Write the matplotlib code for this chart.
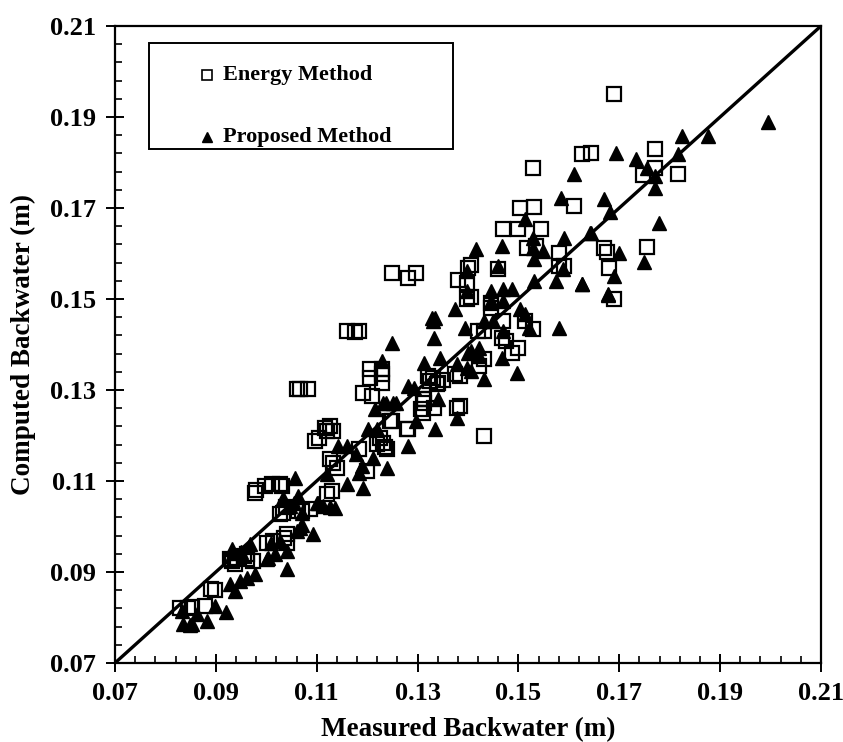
import numpy as np
import matplotlib
matplotlib.use("Agg")
import matplotlib.pyplot as plt
from matplotlib.patches import Rectangle
from matplotlib.ticker import FixedLocator, FormatStrFormatter

plt.rcParams['font.family'] = ['Liberation Serif', 'DejaVu Serif']
plt.rcParams['font.weight'] = 'bold'

# Energy Method (measured, computed)
energy_x = [0.0829, 0.0845, 0.0852, 0.0879, 0.0899, 0.0890,
            0.0928, 0.0938, 0.0932, 0.0942, 0.0962, 0.0962, 0.0974, 0.0955,
            0.1002, 0.1014, 0.1042, 0.1042, 0.1036,
            0.1034, 0.1063, 0.1071, 0.1028, 0.1087, 0.1040,
            0.0978, 0.0980, 0.0998, 0.1012, 0.1028, 0.1032,
            0.1121, 0.1131,
            0.1161, 0.1183, 0.1175,
            0.1060, 0.1067, 0.1083,
            0.1206, 0.1230, 0.1230, 0.1206, 0.1230, 0.1192, 0.1210,
            0.1117, 0.1127, 0.1120, 0.1097, 0.1133, 0.1105,
            0.1250, 0.1280, 0.1306, 0.1310, 0.1331, 0.1341, 0.1320, 0.1325,
            0.1350, 0.1385, 0.1385,
            0.1183, 0.1200, 0.1220, 0.1240, 0.1127, 0.1133, 0.1141,
            0.1470, 0.1500, 0.1544, 0.1518, 0.1534, 0.1580, 0.1580, 0.1590,
            0.1250, 0.1282, 0.1296,
            0.1401, 0.1405, 0.1381, 0.1399, 0.1459, 0.1399, 0.1405, 0.1445, 0.1445,
            0.1419, 0.1431, 0.1470, 0.1514, 0.1528, 0.1468, 0.1475, 0.1500,
            0.1488, 0.1431, 0.1421, 0.1375,
            0.1312, 0.1310, 0.1333, 0.1379, 0.1431, 0.1282, 0.1246, 0.1225, 0.1235,
            0.1232, 0.1339, 0.1312,
            0.1690, 0.1627, 0.1643, 0.1770, 0.1748, 0.1770, 0.1816,
            0.1528, 0.1610, 0.1504, 0.1530,
            0.1669, 0.1675, 0.1754, 0.1680, 0.1689]
energy_y = [0.0821, 0.0821, 0.0824, 0.0825, 0.0860, 0.0862,
            0.0929, 0.0918, 0.0924, 0.0931, 0.0940, 0.0929, 0.0924, 0.0935,
            0.0964, 0.0968, 0.0964, 0.0983, 0.0975,
            0.1030, 0.1034, 0.1034, 0.1027, 0.1038, 0.1042,
            0.1074, 0.1080, 0.1089, 0.1093, 0.1093, 0.1089,
            0.1071, 0.1078,
            0.1430, 0.1430, 0.1428,
            0.1302, 0.1302, 0.1302,
            0.1346, 0.1346, 0.1335, 0.1326, 0.1315, 0.1293, 0.1287,
            0.1216, 0.1221, 0.1210, 0.1188, 0.1210, 0.1195,
            0.1232, 0.1214, 0.1258, 0.1280, 0.1326, 0.1315, 0.1330, 0.1320,
            0.1322, 0.1331, 0.1265,
            0.1170, 0.1122, 0.1181, 0.1170, 0.1148, 0.1139, 0.1128,
            0.1654, 0.1654, 0.1654, 0.1612, 0.1617, 0.1601, 0.1573, 0.1573,
            0.1557, 0.1546, 0.1557,
            0.1568, 0.1575, 0.1542, 0.1535, 0.1566, 0.1500, 0.1505, 0.1491, 0.1480,
            0.1430, 0.1430, 0.1452, 0.1452, 0.1434, 0.1414, 0.1408, 0.1392,
            0.1381, 0.1368, 0.1353, 0.1335,
            0.1271, 0.1249, 0.1260, 0.1260, 0.1199, 0.1214, 0.1232, 0.1195, 0.1175,
            0.1184, 0.1313, 0.1280,
            0.1950, 0.1819, 0.1821, 0.1830, 0.1773, 0.1788, 0.1775,
            0.1788, 0.1704, 0.1700, 0.1702,
            0.1612, 0.1603, 0.1614, 0.1568, 0.1500]

# Proposed Method (measured, computed)
proposed_x = [0.0833, 0.0835, 0.0849, 0.0853, 0.0863, 0.0883, 0.0899, 0.0920,
              0.0928, 0.0938, 0.0948, 0.0962, 0.0978, 0.0932, 0.0935,
              0.1004, 0.1018, 0.1042, 0.0968, 0.1002, 0.0950,
              0.1028, 0.1042, 0.1010, 0.1067, 0.1071, 0.1093, 0.1060,
              0.1048, 0.1063, 0.1055, 0.1101, 0.1113, 0.1127, 0.1137, 0.1071,
              0.1250, 0.1333, 0.1331, 0.1230, 0.1312, 0.1345, 0.1379, 0.1282,
              0.1216, 0.1232, 0.1252, 0.1202, 0.1220, 0.1335, 0.1282,
              0.1143, 0.1161, 0.1177, 0.1212, 0.1240, 0.1190, 0.1183, 0.1192,
              0.1161, 0.1121, 0.1057, 0.1034, 0.1103,
              0.1415, 0.1468, 0.1528, 0.1528, 0.1548, 0.1590, 0.1643, 0.1530,
              0.1459, 0.1588, 0.1530, 0.1574, 0.1627, 0.1677, 0.1399,
              0.1445, 0.1470, 0.1488, 0.1399, 0.1375, 0.1329, 0.1335, 0.1445,
              0.1470, 0.1504, 0.1514, 0.1580, 0.1520, 0.1395, 0.1431, 0.1449, 0.1470,
              0.1421, 0.1405, 0.1421, 0.1468, 0.1405, 0.1431, 0.1498, 0.1292,
              0.1341, 0.1379, 0.1238, 0.1258, 0.1296, 0.1399, 0.1401,
              0.1824, 0.1876, 0.1693, 0.1733, 0.1754, 0.1816, 0.1611, 0.1770,
              0.1770, 0.1669, 0.1681, 0.1641, 0.1778, 0.1700, 0.1749, 0.1627,
              0.1689, 0.1677, 0.1995, 0.1584, 0.1514]
proposed_y = [0.0814, 0.0786, 0.0784, 0.0786, 0.0808, 0.0792, 0.0825, 0.0812,
              0.0874, 0.0858, 0.0880, 0.0887, 0.0896, 0.0951, 0.0942,
              0.0931, 0.0940, 0.0907, 0.0962, 0.0929, 0.0945,
              0.0968, 0.0946, 0.0964, 0.0996, 0.1003, 0.0983, 0.0990,
              0.1045, 0.1067, 0.1052, 0.1052, 0.1045, 0.1043, 0.1040, 0.1030,
              0.1403, 0.1414, 0.1452, 0.1364, 0.1359, 0.1370, 0.1357, 0.1309,
              0.1258, 0.1271, 0.1271, 0.1214, 0.1214, 0.1214, 0.1177,
              0.1177, 0.1177, 0.1159, 0.1151, 0.1129, 0.1133, 0.1118, 0.1085,
              0.1093, 0.1115, 0.1107, 0.1063, 0.1052,
              0.1610, 0.1617, 0.1634, 0.1612, 0.1605, 0.1634, 0.1645, 0.1588,
              0.1573, 0.1566, 0.1539, 0.1539, 0.1533, 0.1511, 0.1562,
              0.1518, 0.1522, 0.1522, 0.1518, 0.1478, 0.1458, 0.1458, 0.1496,
              0.1496, 0.1478, 0.1467, 0.1436, 0.1436, 0.1436, 0.1452, 0.1452, 0.1430,
              0.1392, 0.1385, 0.1375, 0.1370, 0.1342, 0.1324, 0.1337, 0.1304,
              0.1280, 0.1238, 0.1271, 0.1271, 0.1232, 0.1348, 0.1381,
              0.1858, 0.1858, 0.1821, 0.1808, 0.1788, 0.1819, 0.1775, 0.1770,
              0.1744, 0.1720, 0.1691, 0.1645, 0.1667, 0.1600, 0.1582, 0.1533,
              0.1550, 0.1509, 0.1890, 0.1722, 0.1676]

lims = [0.07, 0.21]
major_ticks = [0.07, 0.09, 0.11, 0.13, 0.15, 0.17, 0.19, 0.21]

fig = plt.figure(figsize=(8.43, 7.42), dpi=100)
ax = fig.add_axes([0.1364, 0.1065, 0.8375, 0.8585])

ax.plot(energy_x, energy_y, "s", ms=10, mfc="none", mec="black", mew=1.6,
        linestyle="none", zorder=3)
ax.plot(proposed_x, proposed_y, "^", ms=10, mfc="black", mec="black",
        linestyle="none", zorder=4)
ax.plot(lims, lims, "-", color="black", lw=2.4, zorder=5)

ax.set_xlim(lims)
ax.set_ylim(lims)

minor_ticks = np.arange(0.07, 0.2101, 0.004)
ax.xaxis.set_major_locator(FixedLocator(major_ticks))
ax.yaxis.set_major_locator(FixedLocator(major_ticks))
ax.xaxis.set_minor_locator(FixedLocator(minor_ticks))
ax.yaxis.set_minor_locator(FixedLocator(minor_ticks))
ax.xaxis.set_major_formatter(FormatStrFormatter("%.2f"))
ax.yaxis.set_major_formatter(FormatStrFormatter("%.2f"))

ax.tick_params(which="major", direction="inout", length=13, width=1.4,
               labelsize=19, pad=7)
ax.tick_params(which="minor", direction="in", length=5, width=1.2)
ax.tick_params(top=False, right=False, which="both")
for s in ax.spines.values():
    s.set_linewidth(1.6)

ax.set_xlabel("Measured Backwater (m)", fontsize=19.5, fontweight="bold", labelpad=9)
ax.set_ylabel("Computed Backwater (m)", fontsize=19.5, fontweight="bold", labelpad=10)

# legend box drawn by hand
ax.add_patch(Rectangle((0.048, 0.807), 0.431, 0.166, transform=ax.transAxes,
                       fill=False, edgecolor="black", lw=1.4, zorder=6))
ax.plot([0.1305], [0.923], "s", ms=7.5, mfc="none", mec="black", mew=1.2,
        transform=ax.transAxes, zorder=7)
ax.plot([0.1305], [0.826], "^", ms=7.5, mfc="black", mec="black",
        transform=ax.transAxes, zorder=7)
ax.text(0.153, 0.923, "Energy Method", transform=ax.transAxes, fontsize=16,
        fontweight="bold", va="center", ha="left", zorder=7)
ax.text(0.153, 0.826, "Proposed Method", transform=ax.transAxes, fontsize=16,
        fontweight="bold", va="center", ha="left", zorder=7)

fig.savefig("out.png", dpi=100)
